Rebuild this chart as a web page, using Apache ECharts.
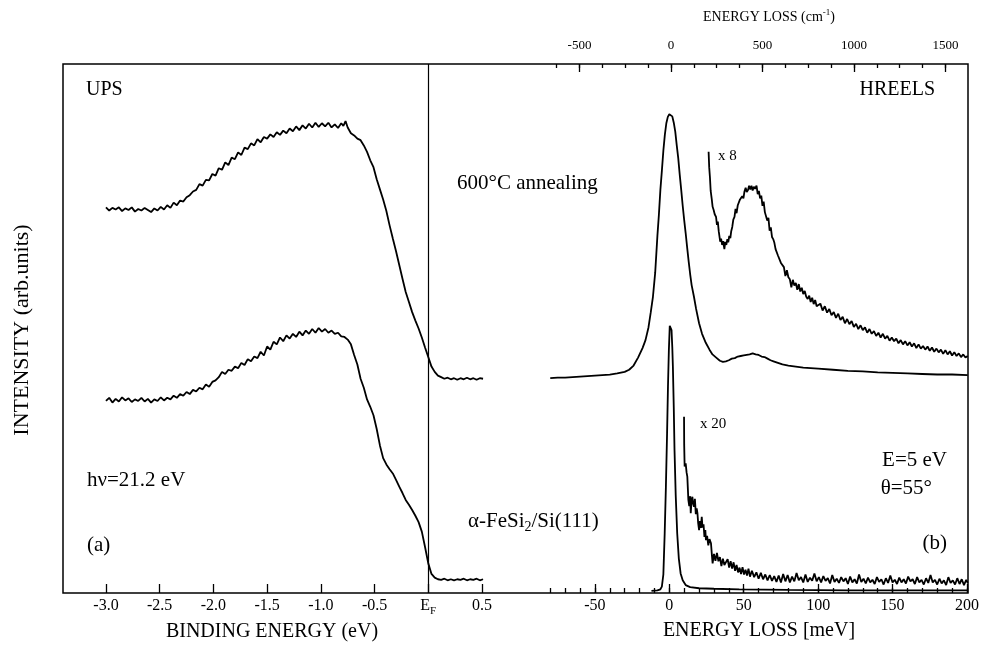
<!DOCTYPE html>
<html>
<head>
<meta charset="utf-8">
<script src="https://cdn.jsdelivr.net/npm/echarts@6/dist/echarts.min.js"></script>
<style>
  html, body { margin: 0; padding: 0; background: #fff; }
  #chart { width: 982px; height: 652px; }
</style>
</head>
<body>
<div id="chart"></div>
<script>
// UPS (a): binding energy in eV, intensity in arb. units (0..100 = frame height)
var upsTicks = [-3.0, -2.5, -2.0, -1.5, -1.0, -0.5, 0, 0.5]
var ups600 = [
  [-3.00,72.9],[-2.97,72.3],[-2.94,72.8],[-2.91,72.5],[-2.88,72.9],[-2.85,72.2],[-2.82,72.7],[-2.79,72.4],[-2.76,72.9],[-2.73,72.1],
  [-2.70,72.6],[-2.67,72.3],[-2.64,72.8],[-2.61,72.4],[-2.58,72.0],[-2.55,72.7],[-2.52,72.3],[-2.49,73.0],[-2.46,72.5],[-2.43,73.3],
  [-2.40,72.8],[-2.37,73.8],[-2.34,73.3],[-2.31,74.2],[-2.28,74.0],[-2.25,74.8],[-2.22,75.2],[-2.19,75.9],[-2.16,76.2],[-2.13,77.3],
  [-2.10,77.0],[-2.07,78.1],[-2.04,78.0],[-2.01,79.2],[-1.98,78.9],[-1.95,80.3],[-1.92,80.0],[-1.89,81.4],[-1.86,80.9],[-1.83,82.3],
  [-1.80,82.0],[-1.77,83.3],[-1.74,82.8],[-1.71,84.2],[-1.68,83.9],[-1.65,85.0],[-1.62,84.6],[-1.59,85.8],[-1.56,85.2],[-1.53,86.2],
  [-1.50,85.9],[-1.47,86.7],[-1.44,86.2],[-1.41,87.1],[-1.38,86.6],[-1.35,87.4],[-1.32,86.9],[-1.29,87.8],[-1.26,87.3],[-1.23,88.2],
  [-1.20,87.5],[-1.17,88.4],[-1.14,87.8],[-1.11,88.7],[-1.08,88.0],[-1.05,88.9],[-1.02,88.1],[-0.99,88.8],[-0.96,88.2],[-0.93,88.9],
  [-0.90,88.0],[-0.87,88.6],[-0.84,87.9],[-0.81,88.8],[-0.79,88.3],[-0.77,89.2],[-0.75,88.0],[-0.72,86.9],[-0.69,86.5],[-0.66,85.9],
  [-0.63,85.6],[-0.60,84.6],[-0.57,83.4],[-0.54,81.8],[-0.51,80.5],[-0.48,78.2],[-0.45,76.3],[-0.42,74.4],[-0.39,72.2],[-0.36,69.5],
  [-0.33,67.0],[-0.30,64.6],[-0.27,62.0],[-0.24,59.4],[-0.21,56.9],[-0.18,55.0],[-0.15,53.1],[-0.12,51.5],[-0.09,50.0],[-0.06,48.3],
  [-0.03,46.4],[0.00,44.6],[0.03,42.8],[0.06,41.8],[0.09,41.1],[0.12,40.8],[0.15,40.5],[0.18,40.7],[0.21,40.4],[0.24,40.6],
  [0.27,40.3],[0.30,40.6],[0.33,40.4],[0.36,40.7],[0.39,40.4],[0.42,40.6],[0.45,40.3],[0.48,40.6],[0.51,40.5]
]
var upsClean = [
  [-3.00,36.3],[-2.97,36.9],[-2.94,36.0],[-2.91,36.7],[-2.88,36.2],[-2.85,37.0],[-2.82,36.4],[-2.79,36.8],[-2.76,36.1],[-2.73,36.6],
  [-2.70,36.3],[-2.67,36.9],[-2.64,36.2],[-2.61,36.7],[-2.58,36.0],[-2.55,36.6],[-2.52,36.3],[-2.49,37.0],[-2.46,36.4],[-2.43,36.9],
  [-2.40,36.6],[-2.37,37.3],[-2.34,36.9],[-2.31,37.6],[-2.28,37.3],[-2.25,38.0],[-2.22,37.6],[-2.19,38.4],[-2.16,38.1],[-2.13,38.8],
  [-2.10,38.5],[-2.07,39.4],[-2.04,39.0],[-2.01,39.9],[-1.98,40.2],[-1.95,40.8],[-1.92,41.8],[-1.89,41.4],[-1.86,42.2],[-1.83,42.0],
  [-1.80,42.8],[-1.77,42.5],[-1.74,43.5],[-1.71,43.1],[-1.68,44.2],[-1.65,43.8],[-1.62,44.7],[-1.59,44.4],[-1.56,45.6],[-1.53,44.9],
  [-1.50,46.6],[-1.47,46.0],[-1.44,47.5],[-1.41,47.0],[-1.38,48.3],[-1.35,47.6],[-1.32,48.7],[-1.29,48.1],[-1.26,49.0],[-1.23,48.4],
  [-1.20,49.4],[-1.17,48.7],[-1.14,49.6],[-1.11,49.0],[-1.08,49.9],[-1.05,49.2],[-1.02,50.1],[-0.99,49.4],[-0.96,49.9],[-0.93,49.2],
  [-0.90,49.6],[-0.87,49.0],[-0.84,49.2],[-0.81,48.5],[-0.78,48.4],[-0.75,47.9],[-0.72,47.0],[-0.69,45.0],[-0.66,43.2],[-0.63,40.5],
  [-0.60,38.8],[-0.57,36.6],[-0.54,35.2],[-0.51,33.6],[-0.48,31.0],[-0.45,27.9],[-0.42,25.5],[-0.39,24.3],[-0.36,23.4],[-0.33,22.6],
  [-0.30,21.4],[-0.27,20.1],[-0.24,18.9],[-0.21,17.6],[-0.18,16.7],[-0.15,15.7],[-0.12,14.6],[-0.09,13.4],[-0.06,11.6],[-0.03,8.7],
  [0.00,5.6],[0.03,3.6],[0.06,2.9],[0.09,2.6],[0.12,2.5],[0.15,2.7],[0.18,2.4],[0.21,2.6],[0.24,2.4],[0.27,2.6],
  [0.30,2.5],[0.33,2.7],[0.36,2.4],[0.39,2.6],[0.42,2.5],[0.45,2.7],[0.48,2.4],[0.51,2.6]
]

// HREELS (b): energy loss in meV (bottom axis) and cm-1 (top axis)
var meVTicks = [-50, 0, 50, 100, 150, 200]
var meVMinor = [-80, -70, -60, -50, -40, -30, -20, -10, 0, 10, 20, 30, 40, 50, 60, 70, 80, 90, 100,
  110, 120, 130, 140, 150, 160, 170, 180, 190, 200]
var cmTicks = [-500, 0, 500, 1000, 1500]
var cmMinor = [-625, -500, -375, -250, -125, 0, 125, 250, 375, 500, 625, 750, 875, 1000, 1125, 1250, 1375, 1500]

var hreels600 = [
  [-80,40.6],[-75,40.7],[-70,40.7],[-65,40.8],[-60,40.9],[-55,41.0],[-50,41.1],[-45,41.2],[-40,41.3],[-35,41.5],
  [-30,41.8],[-27,42.2],[-24,43.0],[-21,44.5],[-18,46.3],[-16,47.8],[-14,50.2],[-12.5,53.0],[-11,56.0],[-9.5,60.5],
  [-8,67.5],[-7,71.5],[-6,76.2],[-5,79.8],[-4,83.6],[-3,86.6],[-2,88.8],[-1,90.0],[0,90.5],[1,90.4],
  [2,90.1],[3,88.9],[4,87.2],[5,84.6],[6,82.2],[7,79.1],[8,76.2],[9,73.2],[10,70.5],[11,68.0],
  [12,65.3],[13,62.7],[14,60.3],[15,58.2],[16.5,56.1],[18,53.7],[20,51.0],[22,49.0],[24.5,47.3],[27,46.0],
  [29,45.1],[31.5,44.5],[34,43.9],[36,43.7],[38,43.8],[40,44.0],[42,44.3],[44,44.4],[46,44.7],[48,44.8],
  [50,44.9],[52,45.0],[54,45.1],[56,45.3],[58,45.1],[60,45.0],[62,44.7],[64,44.6],[66,44.3],[68,44.0],
  [70,43.8],[73,43.5],[76,43.2],[80,43.0],[85,42.8],[90,42.6],[95,42.5],[100,42.4],[110,42.2],[120,42.0],
  [130,41.9],[140,41.7],[150,41.6],[160,41.5],[170,41.4],[180,41.3],[190,41.3],[200.5,41.2]
]
var hreels600x8 = [
  [26.4,83.4],[26.8,80.5],[27.3,78.6],[27.8,76.0],[28.5,74.5],[29.1,73.0],[29.8,72.4],[30.5,71.6],[31.4,71.1],[32.0,69.6],
  [32.6,70.2],[33.2,68.4],[33.6,68.6],[34.2,66.4],[34.8,67.0],[35.5,65.8],[36.2,66.5],[37.0,65.0],[37.6,66.4],[38.3,65.8],
  [39.0,66.9],[39.6,66.3],[40.3,67.5],[41.0,67.1],[41.6,68.4],[42.3,69.2],[43.0,70.6],[43.8,71.1],[44.5,72.6],[45.2,71.8],
  [46.0,73.3],[46.8,73.6],[47.5,74.4],[48.3,74.1],[49.0,75.0],[49.8,74.6],[50.5,75.9],[51.3,76.6],[52.0,75.8],[52.9,76.2],
  [53.6,77.0],[54.4,76.3],[55.2,77.0],[56.0,76.1],[56.8,76.8],[57.6,76.4],[58.6,77.0],[59.4,75.4],[60.2,76.0],[61.0,74.6],
  [61.8,75.1],[62.6,73.2],[63.4,74.0],[64.2,72.0],[65.0,72.3],[65.8,70.4],[66.6,70.9],[67.4,68.5],[68.2,69.1],[69.0,67.3],
  [69.8,66.9],[70.6,66.2],[71.4,65.0],[72.2,65.3],[73.0,63.8],[74.0,63.9],[75.0,62.4],[76.0,62.2],[77.0,61.6],[78.0,59.9],
  [79.0,61.0],[80.0,59.7],[81.0,59.3],[82.0,57.8],[83.0,59.2],[84.0,58.1],[85.0,58.6],[86.0,57.3],[87.0,58.4],[88.0,57.0],
  [89.0,57.7],[90.0,56.5],[91.0,57.1],[92.0,56.0],[93.0,55.6],[94.0,56.2],[95.0,55.0],[96.0,55.8],[97.0,54.6],[98.0,55.4],
  [99.0,54.2],[100.0,53.9],[101.5,54.7],[103.0,53.4],[104.5,54.2],[106.0,53.0],[107.5,53.7],[109.0,52.5],[110.5,53.1],[112.0,52.0],
  [113.5,52.8],[115.0,51.6],[116.5,52.2],[118.0,51.0],[119.5,51.8],[121.0,50.8],[122.5,51.4],[124.0,50.3],[125.5,50.9],[127.0,49.9],
  [128.5,50.6],[130.0,49.7],[131.5,50.2],[133.0,49.2],[134.5,49.9],[136.0,49.0],[137.5,49.5],[139.0,48.6],[140.5,49.2],[142.0,48.3],
  [143.5,49.0],[145.0,48.1],[146.5,48.6],[148.0,47.7],[149.5,48.3],[151.0,47.6],[152.5,48.1],[154.0,47.2],[155.5,47.8],[157.0,47.0],
  [158.5,47.6],[160.0,46.8],[161.5,47.4],[163.0,46.6],[164.5,47.2],[166.0,46.3],[167.5,47.0],[169.0,46.2],[170.5,46.7],[172.0,46.0],
  [173.5,46.6],[175.0,45.8],[176.5,46.4],[178.0,45.6],[179.5,46.2],[181.0,45.5],[182.5,46.0],[184.0,45.2],[185.5,45.9],[187.0,45.1],
  [188.5,45.7],[190.0,44.9],[191.5,45.5],[193.0,44.8],[194.5,45.3],[196.0,44.6],[197.5,45.1],[199.0,44.5],[200.5,44.8]
]
var hreelsClean = [
  [-12,0.4],[-8,0.5],[-6,0.7],[-5,1.2],[-4,3.5],[-3.1,11.3],[-2.3,20.0],[-1.5,30.2],[-0.9,39.0],[-0.3,45.9],
  [0.3,50.5],[0.9,50.6],[1.5,49.7],[2.0,46.5],[2.4,42.8],[3.0,35.0],[3.5,27.0],[4.3,18.5],[5.3,11.3],[6.4,6.5],
  [7.6,3.7],[9,2.4],[11,1.5],[14,1.1],[20,0.9],[30,0.8],[47,0.7],[80,0.6],[120,0.5],[160,0.5],[200.5,0.5]
]
var hreelsCleanx20 = [
  [9.9,33.3],[10.0,28.0],[10.3,23.9],[11.0,24.5],[11.6,22.8],[12.1,22.0],[12.5,19.5],[12.8,17.6],[13.4,16.4],[14.0,18.3],
  [14.4,15.1],[15.0,17.6],[15.5,18.2],[16.0,16.9],[16.6,16.3],[17.2,17.8],[17.8,14.9],[18.4,16.0],[18.9,15.1],[19.4,13.2],
  [20.0,11.9],[20.6,13.6],[21.2,12.3],[21.8,14.4],[22.3,12.4],[23.0,13.0],[23.6,10.6],[24.2,11.9],[24.6,10.0],[25.4,10.8],
  [26.2,9.0],[27.0,10.2],[28.0,9.4],[28.6,7.2],[29.1,5.6],[30.0,7.4],[31.0,6.1],[32.0,7.6],[33.0,6.0],[34.0,6.8],
  [35.0,5.1],[36.0,6.5],[37.0,5.3],[38.2,5.0],[39.2,6.4],[40.2,4.8],[41.2,6.0],[42.2,4.6],[43.2,5.8],[44.2,4.2],
  [45.2,5.3],[46.2,3.9],[47.2,4.8],[48.2,3.6],[49.2,4.9],[50.2,3.5],[51.2,4.4],[52.2,3.3],[53.2,4.6],[54.2,3.1],
  [55.5,4.2],[57.0,3.0],[58.5,3.9],[60.0,2.7],[61.5,3.8],[63.0,2.6],[64.5,3.5],[66.0,2.4],[67.5,3.4],[69.0,2.3],
  [70.5,3.2],[72.0,2.1],[73.5,3.3],[75.0,2.0],[76.5,3.6],[78.0,2.2],[79.5,3.4],[81.0,2.0],[82.5,3.1],[84.0,2.2],
  [85.5,3.8],[87.0,2.4],[88.5,3.0],[90.0,2.0],[91.5,3.5],[93.0,2.1],[94.5,2.9],[96.0,2.3],[97.5,3.7],[99.0,2.2],
  [100.5,3.0],[102.0,2.0],[103.5,3.2],[105.0,2.3],[106.5,2.8],[108.0,1.8],[109.5,3.4],[111.0,2.1],[112.5,2.7],[114.0,1.9],
  [115.5,3.0],[117.0,2.2],[118.5,2.8],[120.0,1.7],[121.5,3.1],[123.0,2.0],[124.5,2.6],[126.0,1.8],[127.5,3.5],[129.0,2.1],
  [130.5,2.7],[132.0,1.8],[133.5,2.9],[135.0,2.0],[136.5,2.5],[138.0,1.7],[139.5,3.0],[141.0,2.1],[142.5,2.6],[144.0,1.6],
  [145.5,2.8],[147.0,1.9],[148.5,3.3],[150.0,2.0],[151.5,2.5],[153.0,1.7],[154.5,2.9],[156.0,2.0],[157.5,2.6],[159.0,1.8],
  [160.5,3.1],[162.0,2.2],[163.5,2.6],[165.0,1.7],[166.5,3.0],[168.0,2.0],[169.5,2.5],[171.0,1.6],[172.5,2.8],[174.0,1.9],
  [175.5,3.4],[177.0,2.0],[178.5,2.5],[180.0,1.6],[181.5,2.7],[183.0,1.8],[184.5,2.4],[186.0,1.5],[187.5,3.0],[189.0,1.9],
  [190.5,2.4],[192.0,1.6],[193.5,2.8],[195.0,1.7],[196.5,2.6],[198.0,1.5],[199.5,2.5],[200.5,1.9]
]

var font = 'Liberation Serif'
var black = '#000'
var frame = { left: 63, right: 14, top: 64, bottom: 59 }

function grid(extra) {
  return Object.assign({ outerBoundsMode: 'none', containLabel: false }, frame, extra || {})
}

function tickAxis(o) {
  // value axis whose ticks/labels are only the listed values
  return {
    gridIndex: o.grid,
    type: 'value',
    position: o.pos,
    min: o.min,
    max: o.max,
    axisLine: { show: false },
    splitLine: { show: false },
    axisTick: {
      show: true, inside: true, length: o.len, customValues: o.ticks,
      lineStyle: { color: black, width: 1.3 }
    },
    axisLabel: o.labels ? {
      show: true, customValues: o.labels, margin: o.margin, color: black,
      fontFamily: font, fontSize: o.fontSize, lineHeight: 22,
      formatter: o.formatter || function (v) { return String(v) },
      rich: o.rich
    } : { show: false }
  }
}

function curve(name, data, xi) {
  return {
    name: name, type: 'line', data: data, xAxisIndex: xi, yAxisIndex: xi === 0 ? 0 : 1,
    symbol: 'none', showSymbol: false, silent: true,
    lineStyle: { color: black, width: 1.8 }
  }
}

function label(x, y, text, size, align, extra) {
  return Object.assign({
    type: 'text', x: x, y: y, silent: true,
    style: {
      text: text, fill: black, fontFamily: font, fontSize: size,
      textAlign: align || 'left', textVerticalAlign: 'middle'
    }
  }, extra || {})
}

var chart = echarts.init(document.getElementById('chart'))

var ups = curve('600°C annealing', ups600, 0)
ups.markLine = {
  silent: true, symbol: ['none', 'none'], label: { show: false },
  lineStyle: { color: black, width: 1.2, type: 'solid' },
  data: [{ xAxis: 0 }]
}

var option = {
  animation: false,
  backgroundColor: '#fff',
  grid: [
    grid({ show: true, borderColor: black, borderWidth: 1.5, backgroundColor: 'transparent' }),
    grid(),
    grid()
  ],
  xAxis: [
    tickAxis({
      grid: 0, pos: 'bottom', min: -3.4, max: 5.024, len: 9, ticks: upsTicks, labels: upsTicks,
      margin: 2, fontSize: 16,
      formatter: function (v) { return v === 0 ? '{e|E}{s|F}' : v.toFixed(1) },
      rich: {
        e: { fontFamily: font, fontSize: 16, color: black },
        s: { fontFamily: font, fontSize: 11, color: black, verticalAlign: 'bottom' }
      }
    }),
    tickAxis({
      grid: 1, pos: 'bottom', min: -407.4, max: 200.7, len: 9, ticks: meVTicks, labels: meVTicks,
      margin: 2, fontSize: 16
    }),
    tickAxis({ grid: 2, pos: 'bottom', min: -407.4, max: 200.7, len: 5, ticks: meVMinor }),
    tickAxis({
      grid: 1, pos: 'top', min: -3322.4, max: 1623, len: 8, ticks: cmTicks, labels: cmTicks,
      margin: 7, fontSize: 13
    }),
    tickAxis({ grid: 2, pos: 'top', min: -3322.4, max: 1623, len: 4, ticks: cmMinor })
  ],
  yAxis: [
    { gridIndex: 0, type: 'value', min: 0, max: 100, show: false },
    { gridIndex: 1, type: 'value', min: 0, max: 100, show: false },
    { gridIndex: 2, type: 'value', min: 0, max: 100, show: false }
  ],
  series: [
    ups,
    curve('α-FeSi2/Si(111)', upsClean, 0),
    curve('600°C annealing', hreels600, 1),
    curve('600°C annealing x 8', hreels600x8, 1),
    curve('α-FeSi2/Si(111)', hreelsClean, 1),
    curve('α-FeSi2/Si(111) x 20', hreelsCleanx20, 1)
  ],
  graphic: [
    label(86, 90, 'UPS', 20),
    label(935, 90, 'HREELS', 20, 'right'),
    label(457, 183, '600°C annealing', 21),
    label(718, 156, 'x 8', 15),
    label(700, 424, 'x 20', 15),
    label(87, 480, 'hν=21.2 eV', 21),
    label(87, 545, '(a)', 21),
    label(468, 521, 'α-FeSi{s|2}/Si(111)', 21, 'left'),
    label(947, 460, 'E=5 eV', 21, 'right'),
    label(932, 488, 'θ=55°', 21, 'right'),
    label(947, 543, '(b)', 21, 'right'),
    label(272, 632, 'BINDING ENERGY (eV)', 20, 'center'),
    label(759, 631, 'ENERGY LOSS [meV]', 20, 'center'),
    label(769, 17, 'ENERGY LOSS (cm{p|-1})', 14, 'center'),
    label(22, 330, 'INTENSITY (arb.units)', 22, 'center', { rotation: Math.PI / 2 })
  ]
}

// rich parts for sub/superscripts in the free labels
option.graphic[7].style.rich = {
  s: { fontFamily: font, fontSize: 14, fill: black, padding: [12, 0, 0, 0] }
}
option.graphic[13].style.rich = {
  p: { fontFamily: font, fontSize: 9, fill: black, padding: [0, 0, 9, 0] }
}

chart.setOption(option)
</script>
</body>
</html>
